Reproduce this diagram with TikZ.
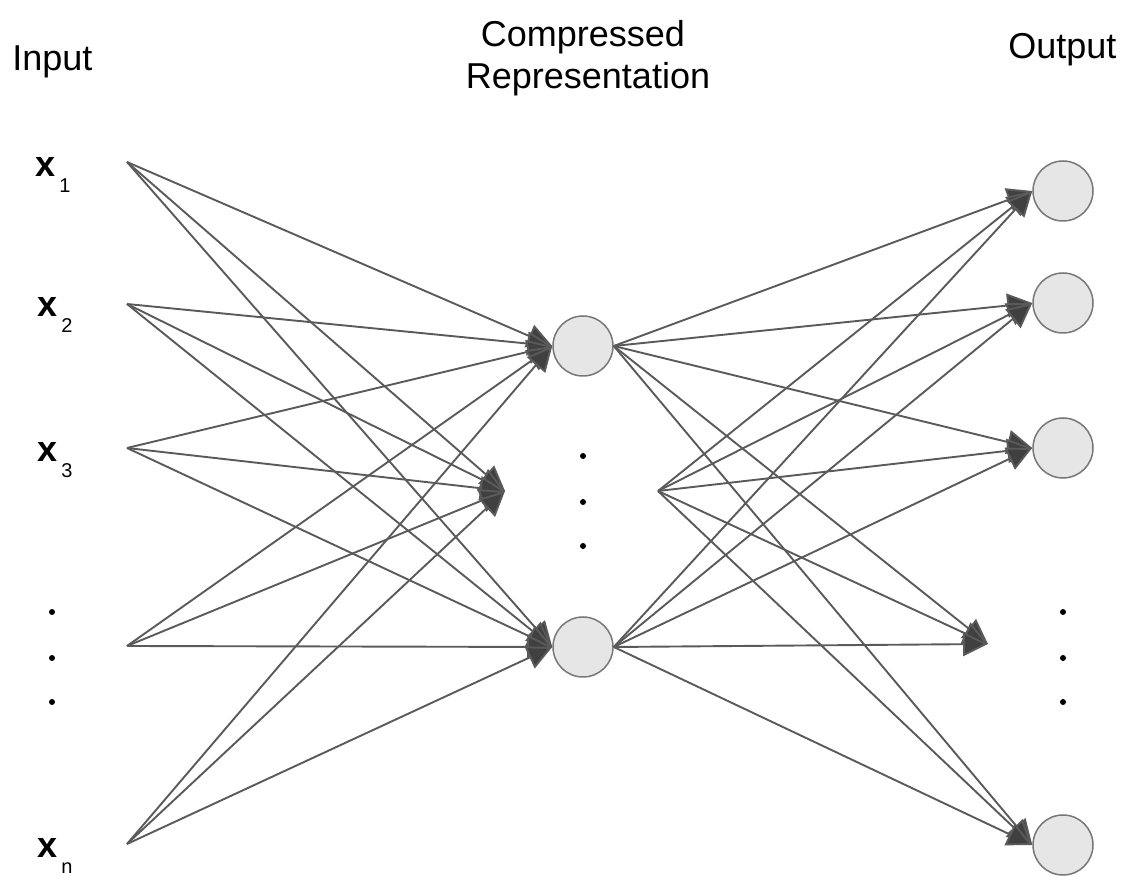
\documentclass[tikz,border=0pt]{standalone}
\usepackage{fontspec}
\setmainfont{Liberation Sans}
\usetikzlibrary{arrows.meta}
\definecolor{linkgray}{HTML}{5A5A5A}
\definecolor{tipgray}{HTML}{404040}
\definecolor{unitfill}{HTML}{E6E6E6}
\definecolor{unitline}{HTML}{777777}
\newcommand{\xsub}[1]{\textbf{x}\hspace{2pt}\raisebox{-8pt}{\fontsize{10}{11}\selectfont #1}}
\tikzset{
  unit/.style={circle, draw=unitline, fill=unitfill, line width=0.75pt, minimum size=30pt, inner sep=0pt},
  link/.style={draw=linkgray, line width=0.95pt, -{Triangle[length=12.5pt,width=12pt,fill=tipgray]}},
  lbl/.style={inner sep=0pt, font=\fontsize{18}{20}\selectfont}
}
\begin{document}
\begin{tikzpicture}[x=0.5pt, y=-0.5pt]
            \useasboundingbox (0,0) rectangle (1126,876);
            \node[lbl, anchor=base west] (input) at (12,71) {Input};
            \node[lbl, anchor=base] (comp) at (583,47) {Compressed};
            \node[lbl, anchor=base] (repr) at (588,89) {Representation};
            \node[lbl, anchor=base west] (output) at (1008,59) {Output};
            \node[lbl, anchor=base west] (lx1) at (35,177) {\xsub{1}};
            \node[lbl, anchor=base west] (lx2) at (37,317) {\xsub{2}};
            \node[lbl, anchor=base west] (lx3) at (37,462) {\xsub{3}};
            \node[lbl, anchor=base west] (lxn) at (37,858) {\xsub{n}};
            \fill (52,612) circle (3) (52,658) circle (3) (52,702) circle (3);
            \fill (583,456) circle (3) (583,502) circle (3) (583,546) circle (3);
            \fill (1063,612) circle (3) (1063,658) circle (3) (1063,702) circle (3);
            \coordinate (in1) at (127,162);
            \coordinate (in2) at (127,304);
            \coordinate (in3) at (127,448);
            \coordinate (in4) at (127,646);
            \coordinate (in5) at (127,844);
            \node[unit] (h1) at (583,346) {};
            \node[unit] (h2) at (583,647) {};
            \coordinate (hm) at (505,491);
            \coordinate (hs) at (658,491);
            \node[unit] (o1) at (1063,191) {};
            \node[unit] (o2) at (1063,303) {};
            \node[unit] (o3) at (1063,448) {};
            \node[unit] (o5) at (1063,845) {};
            \coordinate (o4) at (988,644);
            \draw[link] (in1) -- (h1.west);
            \draw[link] (in1) -- (hm);
            \draw[link] (in1) -- (h2.west);
            \draw[link] (in2) -- (h1.west);
            \draw[link] (in2) -- (hm);
            \draw[link] (in2) -- (h2.west);
            \draw[link] (in3) -- (h1.west);
            \draw[link] (in3) -- (hm);
            \draw[link] (in3) -- (h2.west);
            \draw[link] (in4) -- (h1.west);
            \draw[link] (in4) -- (hm);
            \draw[link] (in4) -- (h2.west);
            \draw[link] (in5) -- (h1.west);
            \draw[link] (in5) -- (hm);
            \draw[link] (in5) -- (h2.west);
            \draw[link] (h1.east) -- (o1.west);
            \draw[link] (h1.east) -- (o2.west);
            \draw[link] (h1.east) -- (o3.west);
            \draw[link] (h1.east) -- (o4);
            \draw[link] (h1.east) -- (o5.west);
            \draw[link] (hs) -- (o1.west);
            \draw[link] (hs) -- (o2.west);
            \draw[link] (hs) -- (o3.west);
            \draw[link] (hs) -- (o4);
            \draw[link] (hs) -- (o5.west);
            \draw[link] (h2.east) -- (o1.west);
            \draw[link] (h2.east) -- (o2.west);
            \draw[link] (h2.east) -- (o3.west);
            \draw[link] (h2.east) -- (o4);
            \draw[link] (h2.east) -- (o5.west);
        \end{tikzpicture}
\end{document}
